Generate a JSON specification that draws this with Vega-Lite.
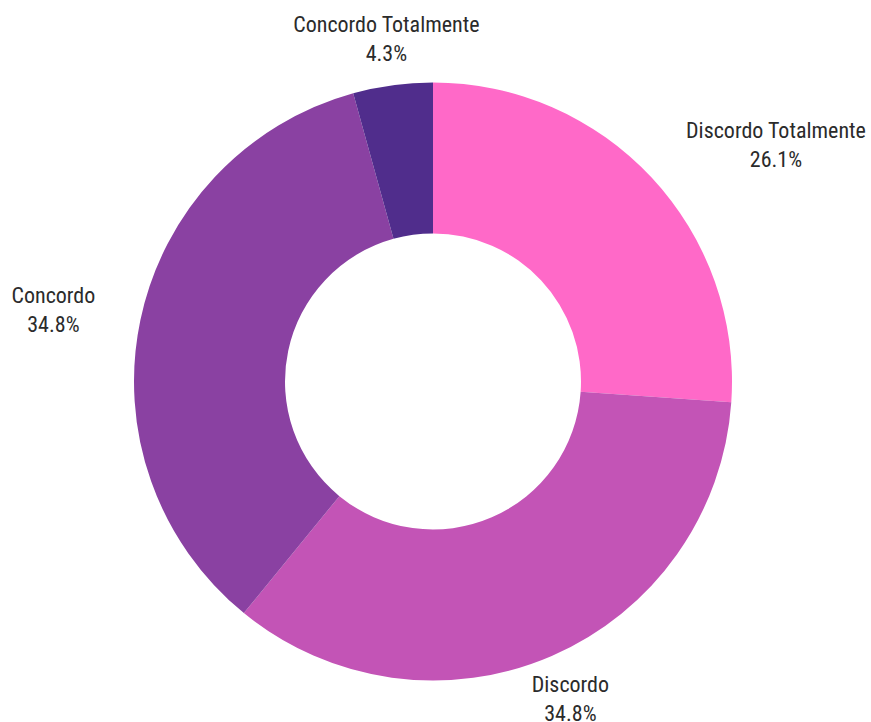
{
  "$schema": "https://vega.github.io/schema/vega-lite/v6.json",
  "width": 871,
  "height": 722,
  "autosize": {"type": "fit", "contains": "padding"},
  "padding": {"left": 0, "right": 5, "top": 34, "bottom": 0},
  "background": "white",
  "view": {"stroke": null},
  "data": {
    "values": [
      {"label": "Discordo Totalmente", "value": 0.261, "ord": 1},
      {"label": "Discordo", "value": 0.348, "ord": 2},
      {"label": "Concordo", "value": 0.348, "ord": 3},
      {"label": "Concordo Totalmente", "value": 0.043, "ord": 4}
    ]
  },
  "encoding": {
    "theta": {"field": "value", "type": "quantitative", "stack": true},
    "order": {"field": "ord", "type": "quantitative"}
  },
  "layer": [
    {
      "mark": {"type": "arc", "outerRadius": 299, "innerRadius": 148},
      "encoding": {
        "color": {
          "field": "label",
          "type": "nominal",
          "scale": {
            "domain": ["Discordo Totalmente", "Discordo", "Concordo", "Concordo Totalmente"],
            "range": ["#FF69C8", "#C354B6", "#8A41A2", "#502D8C"]
          },
          "legend": null
        }
      }
    },
    {
      "mark": {
        "type": "text",
        "radius": 346,
        "dy": -14,
        "baseline": "middle",
        "align": "center",
        "fontSize": 22,
        "font": "Roboto Condensed, Roboto",
        "color": "#2b2b2b",
        "dx": {"expr": "datum.label === 'Discordo Totalmente' ? 90 : datum.label === 'Concordo' ? -41 : 0"}
      },
      "encoding": {"text": {"field": "label", "type": "nominal"}}
    },
    {
      "mark": {
        "type": "text",
        "radius": 346,
        "dy": 15,
        "baseline": "middle",
        "align": "center",
        "fontSize": 22,
        "font": "Roboto Condensed, Roboto",
        "color": "#2b2b2b",
        "dx": {"expr": "datum.label === 'Discordo Totalmente' ? 90 : datum.label === 'Concordo' ? -41 : 0"}
      },
      "encoding": {"text": {"field": "value", "type": "quantitative", "format": ".1%"}}
    }
  ]
}
